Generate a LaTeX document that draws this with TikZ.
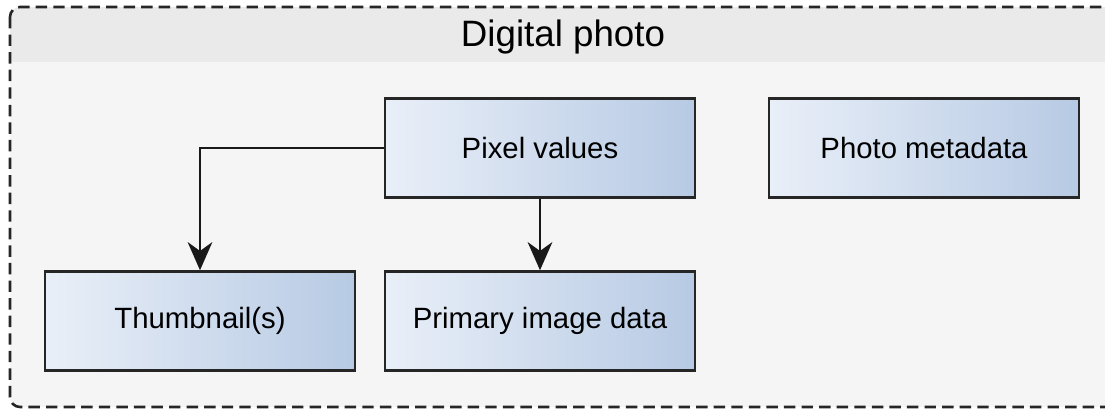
\documentclass[tikz,border=0pt]{standalone}
\usepackage{fontspec}
\setmainfont{Liberation Sans}
\usepackage{xcolor}
\usetikzlibrary{arrows.meta,positioning}

\definecolor{framebody}{HTML}{F5F5F5}
\definecolor{framehead}{HTML}{EAEAEA}
\definecolor{boxleft}{HTML}{E9EFF8}
\definecolor{boxright}{HTML}{B7CAE4}

\tikzset{
	blockbox/.style={draw=black!85,line width=1.4pt,left color=boxleft,right color=boxright,
		minimum width=6.2cm,minimum height=1.98cm,inner sep=0pt,
		font=\fontsize{16.7}{20}\selectfont},
	flowarrow/.style={line width=1.4pt,black!90,-{Stealth[length=16pt,width=14pt,inset=5pt]}}
}

\begin{document}
\begin{tikzpicture}[x=0.02cm,y=-0.02cm]
		\useasboundingbox (0,0) rectangle (1105,412);
		% container
		\fill[framebody,rounded corners=0.2cm] (10,7) rectangle (1116,407);
		\begin{scope}
			\clip[rounded corners=0.2cm] (10,7) rectangle (1116,407);
			\fill[framehead] (10,7) rectangle (1116,62);
		\end{scope}
		\draw[line width=1.5pt,black!85,dash pattern=on 6.5pt off 3.5pt,rounded corners=0.2cm] (10,7) rectangle (1116,407);
		\node[font=\fontsize{20.9}{24}\selectfont] (title) at (563,37) {Digital photo};
		% boxes
		\node[blockbox] (pixel) at (540,148) {Pixel values};
		\node[blockbox] (meta) at (924,148) {Photo metadata};
		\node[blockbox] (thumb) at (200,321) {Thumbnail(s)};
		\node[blockbox] (primary) at (540,321) {Primary image data};
		% connectors
		\draw[flowarrow] (pixel.west) -| (thumb.north);
		\draw[flowarrow] (pixel.south) -- (primary.north);
	\end{tikzpicture}
\end{document}
